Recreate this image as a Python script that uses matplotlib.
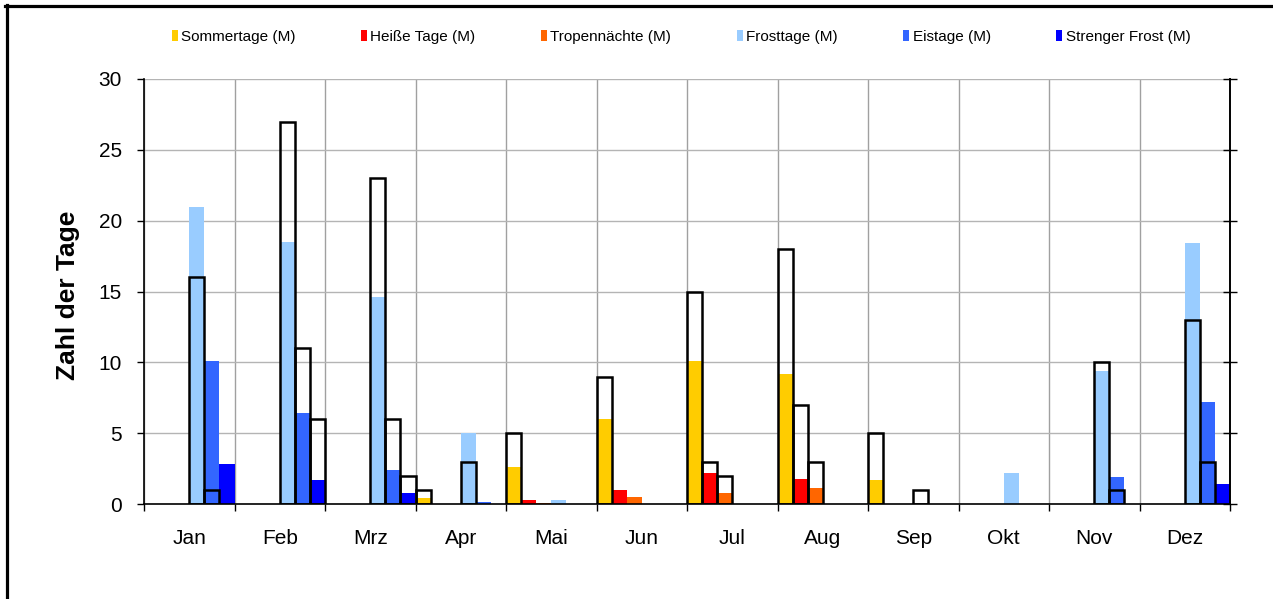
import numpy as np
import matplotlib
matplotlib.use('Agg')
import matplotlib.pyplot as plt
from matplotlib.lines import Line2D

plt.rcParams['font.family'] = ['Liberation Sans', 'DejaVu Sans']

months = ['Jan', 'Feb', 'Mrz', 'Apr', 'Mai', 'Jun', 'Jul', 'Aug', 'Sep', 'Okt', 'Nov', 'Dez']
series = ['Sommertage (M)', 'Heiße Tage (M)', 'Tropennächte (M)',
          'Frosttage (M)', 'Eistage (M)', 'Strenger Frost (M)']
colors = ['#FFCC00', '#FF0000', '#FF6600', '#99CCFF', '#3366FF', '#0000FF']

# Mittelwerte (farbige Säulen)
sommer_m = [0, 0, 0, 0.4, 2.6, 6.0, 10.1, 9.2, 1.7, 0, 0, 0]
heiss_m = [0, 0, 0, 0, 0.25, 1.0, 2.2, 1.8, 0, 0, 0, 0]
tropen_m = [0, 0, 0, 0, 0.1, 0.5, 0.75, 1.1, 0, 0, 0, 0]
frost_m = [21.0, 18.5, 14.6, 5.0, 0.3, 0, 0, 0, 0, 2.2, 9.4, 18.4]
eis_m = [10.1, 6.4, 2.4, 0.15, 0, 0, 0, 0, 0, 0, 1.9, 7.2]
streng_m = [2.8, 1.7, 0.8, 0, 0, 0, 0, 0, 0, 0, 0, 1.4]

# Werte des Jahres (schwarze Rahmen)
sommer_j = [0, 0, 0, 1, 5, 9, 15, 18, 5, 0, 0, 0]
heiss_j = [0, 0, 0, 0, 0, 0, 3, 7, 0, 0, 0, 0]
tropen_j = [0, 0, 0, 0, 0, 0, 2, 3, 0, 0, 0, 0]
frost_j = [16, 27, 23, 3, 0, 0, 0, 0, 1, 0, 10, 13]
eis_j = [1, 11, 6, 0, 0, 0, 0, 0, 0, 0, 1, 3]
streng_j = [0, 6, 2, 0, 0, 0, 0, 0, 0, 0, 0, 0]

mittel = [sommer_m, heiss_m, tropen_m, frost_m, eis_m, streng_m]
jahr = [sommer_j, heiss_j, tropen_j, frost_j, eis_j, streng_j]

fig = plt.figure(figsize=(12.73, 5.99), dpi=100)
ax = fig.add_axes([144 / 1273, 1 - 504 / 599, 1086 / 1273, 425 / 599])

x = np.arange(len(months))
w = 1 / 6
for j in range(6):
    pos = x - 0.5 + (j + 0.5) * w
    vals = np.array(mittel[j], dtype=float)
    ax.bar(pos, vals, width=w, color=colors[j], label=series[j], zorder=2)

for j in range(6):
    pos = x - 0.5 + (j + 0.5) * w
    vals = np.array(jahr[j], dtype=float)
    keep = vals > 0
    ax.bar(pos[keep], vals[keep], width=w, fill=False, edgecolor='black',
           linewidth=1.8, zorder=3)

ax.set_xlim(-0.5, 11.5)
ax.set_ylim(0, 30)
ax.set_yticks(range(0, 31, 5))
ax.set_xticks(x)
ax.set_xticklabels(months)
ax.set_xticks(np.arange(-0.5, 12, 1), minor=True)
ax.tick_params(axis='x', which='major', length=0, pad=18, labelsize=15)
ax.tick_params(axis='x', which='minor', length=5, width=1, direction='out')
ax.tick_params(axis='y', which='major', length=5, width=1, direction='out',
               pad=11, labelsize=15)
ax.grid(True, axis='y', color='#b4b4b4', linewidth=1, zorder=0)
ax.grid(True, axis='x', which='minor', color='#a0a0a0', linewidth=1, zorder=0)
ax.set_axisbelow(True)

ax.spines['top'].set_visible(False)
for s in ['left', 'right', 'bottom']:
    ax.spines[s].set_color('black')
    ax.spines[s].set_linewidth(1.2)
    ax.spines[s].set_zorder(4)

# Ticks an der rechten Achse
ax2 = ax.twinx()
ax2.set_ylim(0, 30)
ax2.set_yticks(range(0, 31, 5))
ax2.tick_params(axis='y', length=10, width=1, direction='inout', labelright=False)
for s in ['left', 'top', 'bottom']:
    ax2.spines[s].set_visible(False)
ax2.spines['right'].set_linewidth(1.2)

fig.text(68 / 1273, 1 - 295 / 599, 'Zahl der Tage', rotation=90, ha='center',
         va='center', fontsize=19, fontweight='bold')

fig.legend(*ax.get_legend_handles_labels(), loc='center',
           bbox_to_anchor=(0.535, 1 - 37 / 599), ncol=6, frameon=False,
           fontsize=11, columnspacing=4.3, handlelength=0.4,
           handleheight=0.75, handletextpad=0.2)

# Rahmen um die Grafik (oben und links sichtbar)
fig.add_artist(Line2D([6.5 / 1273, 6.5 / 1273], [0, 1 - 5 / 599],
                      color='black', linewidth=2.3, transform=fig.transFigure))
fig.add_artist(Line2D([5 / 1273, 1], [1 - 5.5 / 599, 1 - 5.5 / 599],
                      color='black', linewidth=2.3, transform=fig.transFigure))

fig.savefig('out.png', dpi=100)
